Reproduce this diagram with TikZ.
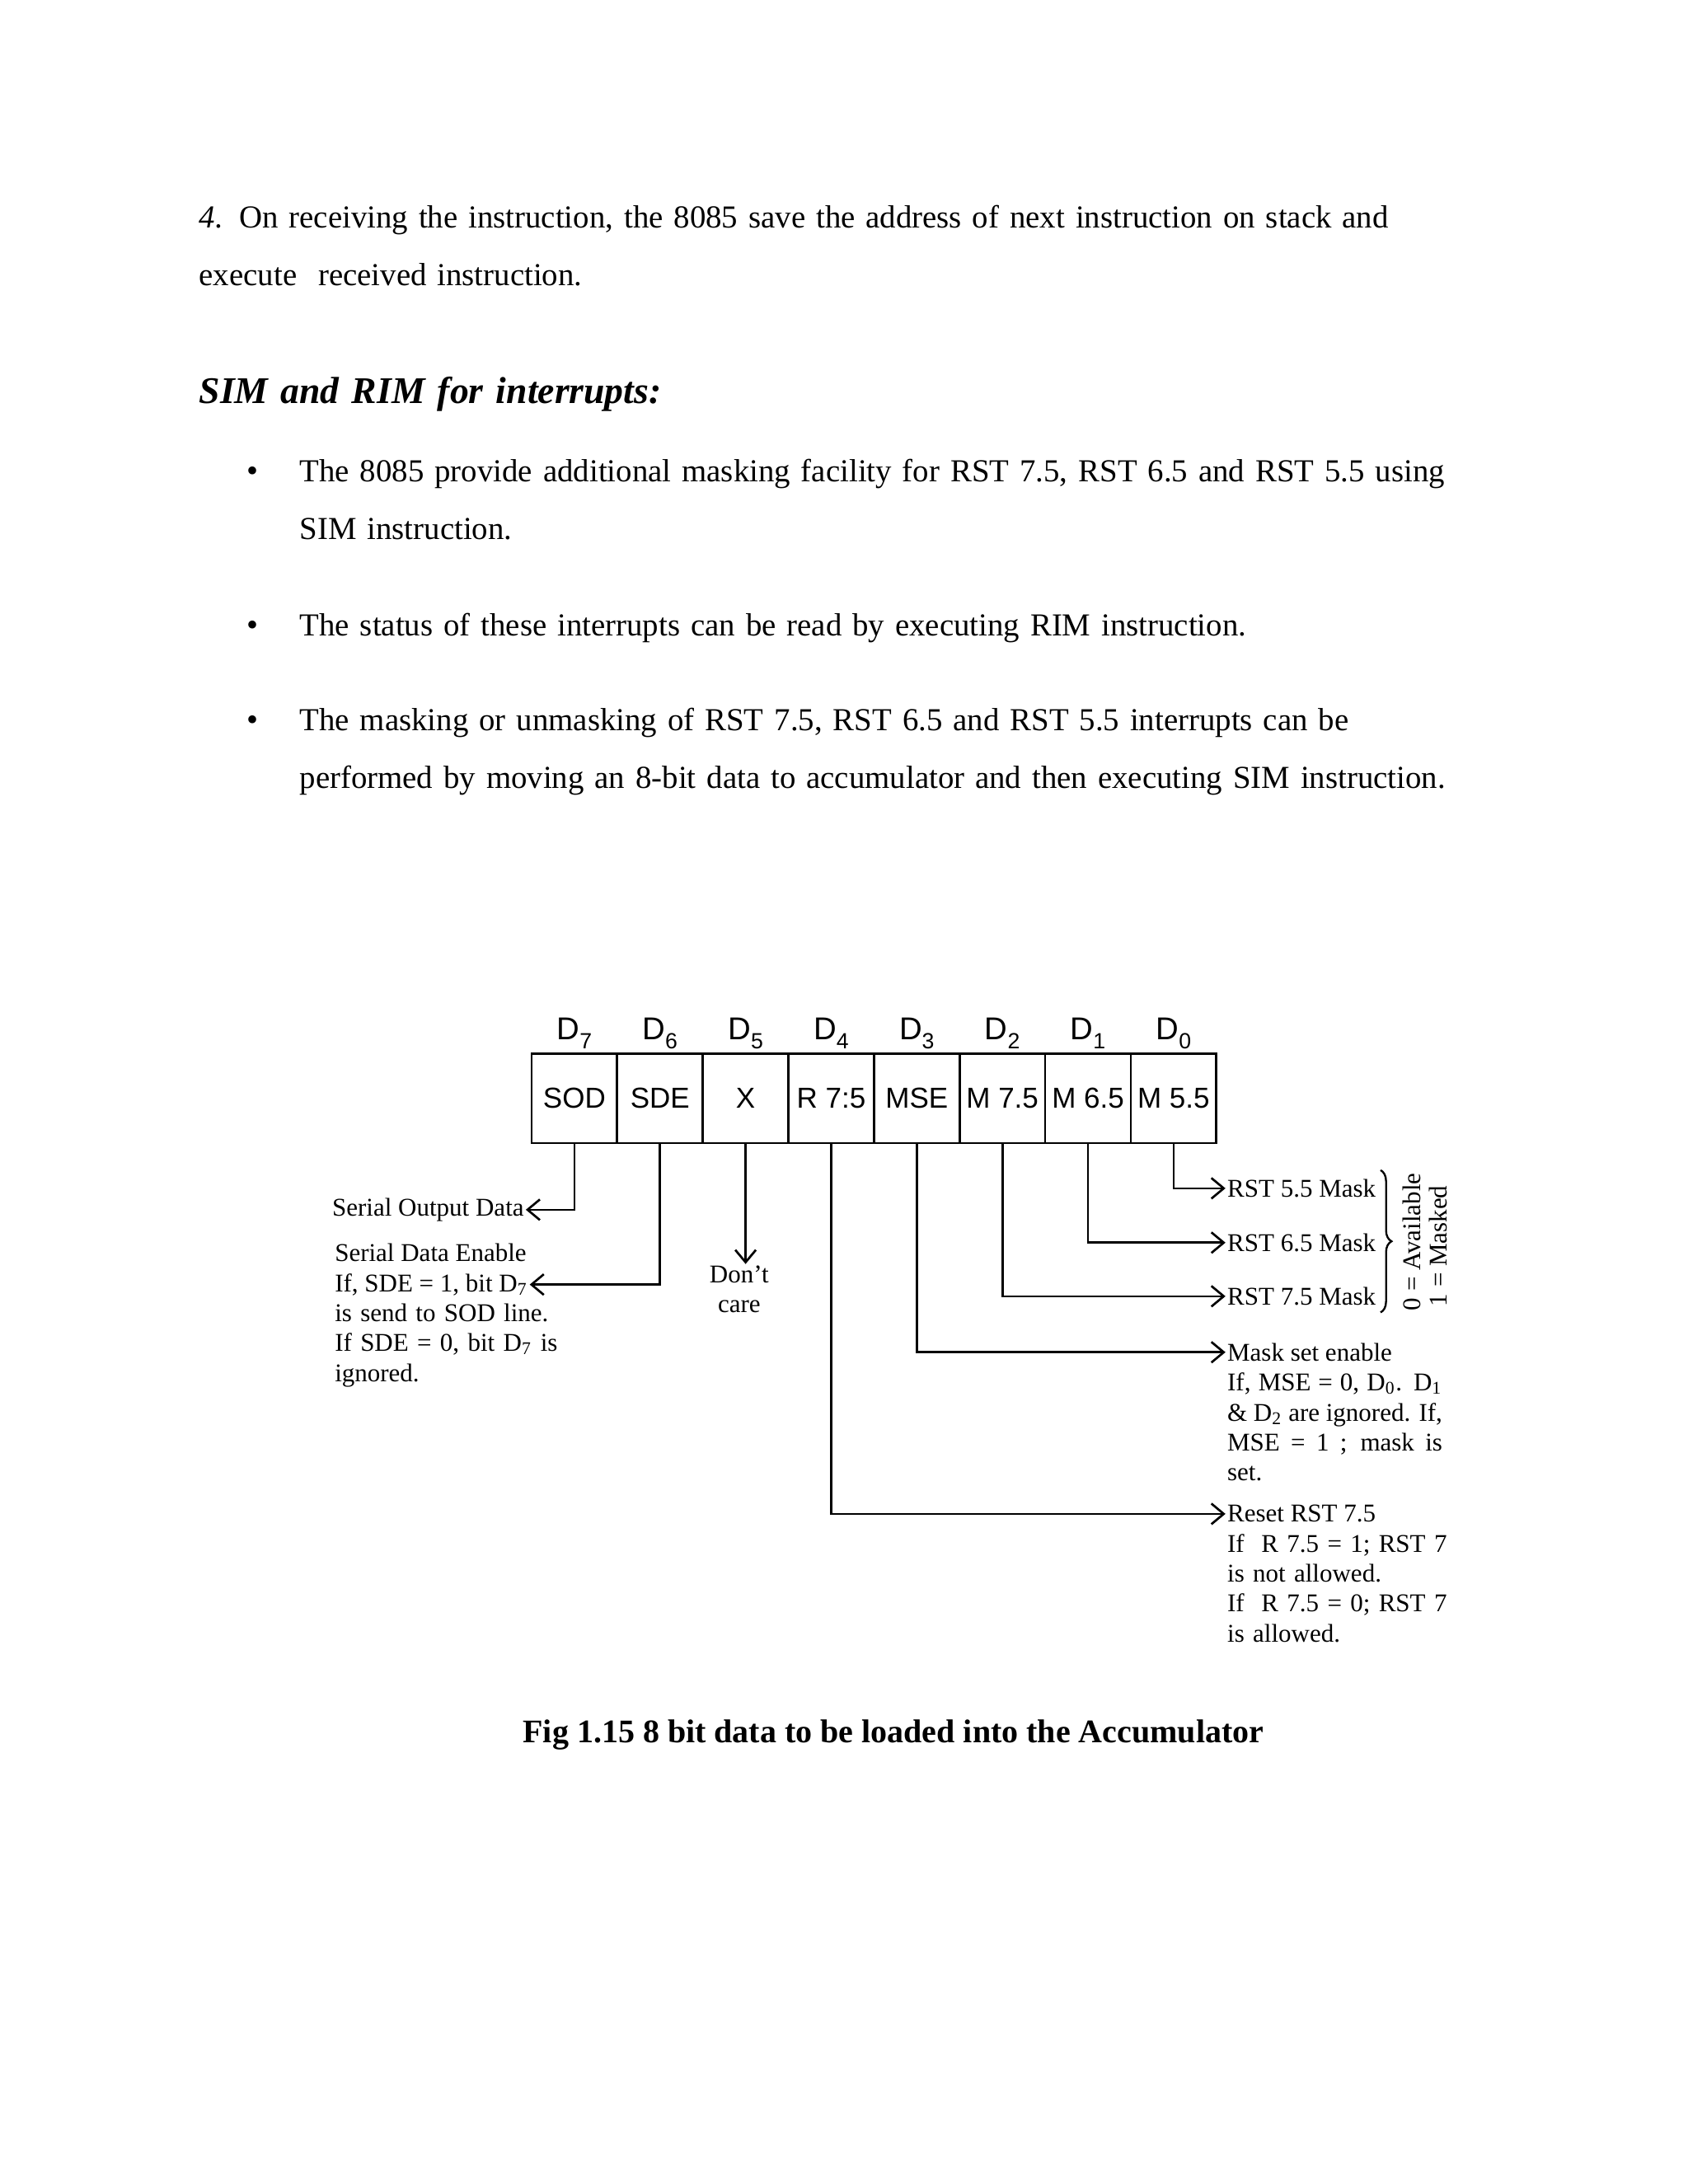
\documentclass[tikz,border=0pt]{standalone}
\usepackage{fontspec}
\setmainfont{Liberation Serif}
\setsansfont{Liberation Sans}
\usepackage{tikz}
\usetikzlibrary{arrows.meta,calc,positioning,decorations.pathreplacing}
\newcommand{\bitsub}[1]{\raisebox{-0.55ex}{\fontsize{8}{8}\selectfont #1}}
\tikzset{
  cell/.style={
    draw,
    line width=0.8pt,
    minimum width=1.095cm,
    minimum height=1.14cm,
    inner sep=0pt,
    font=\sffamily\fontsize{10.5}{12}\selectfont
  },
  bitlbl/.style={
    anchor=base,
    inner sep=0pt,
    font=\sffamily\fontsize{11.5}{13}\selectfont
  },
  note/.style={
    inner sep=0.5pt,
    font=\fontsize{9.3}{10.9}\selectfont
  },
  conn/.style={
    line width=0.8pt,
    -{Straight Barb[length=4.5pt,width=7.5pt]}
  },
  para/.style={
    anchor=base west,
    inner sep=0pt,
    text width=17.5cm,
    align=left,
    font=\fontsize{11.65}{20.9}\selectfont
  }
}

\begin{document}
\begin{tikzpicture}
        \useasboundingbox (0,0) rectangle (21.59,-27.94);
        % page text
        \node[para] (step4) at (2.541,-2.920) {\textit{4.} On receiving the instruction, the 8085 save the address of next instruction on stack and\\execute\ \ received instruction.};
        \node[para, font=\bfseries\itshape\fontsize{13.7}{17}\selectfont] (head) at (2.541,-5.166) {SIM and RIM for interrupts:};
        \foreach \y [count=\i] in {-6.167,-8.138,-9.351}
          \node[anchor=base, inner sep=0pt, font=\fontsize{12}{14}\selectfont] (dot\i) at (3.236,\y) {\textbullet};
        \node[para] (sim) at (3.827,-6.167) {The 8085 provide additional masking facility for RST 7.5, RST 6.5 and RST 5.5 using\\SIM instruction.};
        \node[para] (rim) at (3.827,-8.138) {The status of these interrupts can be read by executing RIM instruction.};
        \node[para] (mask) at (3.827,-9.351) {The masking or unmasking of RST 7.5, RST 6.5 and RST 5.5 interrupts can be\\performed by moving an 8-bit data to accumulator and then executing SIM instruction.};

        % accumulator bits
        \foreach \bit/\lbl in {7/SOD,6/SDE,5/X,4/R 7:5,3/MSE,2/M 7.5,1/M 6.5,0/M 5.5} {
          \node[cell] (b\bit) at ({15.0125-1.095*\bit},-14.052) {\lbl};
          \node[bitlbl] (d\bit) at ([yshift=0.17cm]b\bit.north) {D\bitsub{\bit}};
        }

        % left side
        \node[note, anchor=east] (sod) at (6.726,-15.476) {Serial Output Data};
        \node[note, anchor=base west] (sde) at (4.259,-16.140) {Serial Data Enable};
        \node[note, anchor=base west] (sdeon) at ([yshift=-10.9pt]sde.base west) {If, SDE = 1, bit D\textsubscript{7}};
        \node[note, anchor=base west, text width=3.4cm, align=left] (sdeoff) at ([yshift=-10.9pt]sdeon.base west) {is send to SOD line.\\If SDE = 0, bit D\textsubscript{7} is\\ignored.};
        \node[note, anchor=north, align=center] (dc) at (9.456,-16.17) {Don't\\care};

        % right side
        \node[note, anchor=west] (m55) at (15.676,-15.202) {RST 5.5 Mask};
        \node[note, anchor=west] (m65) at (15.676,-15.897) {RST 6.5 Mask};
        \node[note, anchor=west] (m75) at (15.676,-16.583) {RST 7.5 Mask};
        \draw[decorate, decoration={brace,amplitude=4pt}, line width=0.7pt] (17.66,-14.97) -- (17.66,-16.79);
        \node[note, rotate=90] (avail) at (18.058,-15.887) {0 = Available};
        \node[note, rotate=90] (mskd) at (18.396,-15.94) {1 = Masked};
        \node[note, anchor=west] (mse) at (15.676,-17.299) {Mask set enable};
        \node[note, anchor=base west, text width=2.75cm, align=justify] (msetxt) at ([yshift=-10.9pt]mse.base west) {If, MSE = 0, D\textsubscript{0}. D\textsubscript{1}\linebreak \& D\textsubscript{2} are ignored. If,\linebreak MSE = 1 ; mask is\linebreak set.};
        \node[note, anchor=west] (rst) at (15.676,-19.367) {Reset RST 7.5};
        \node[note, anchor=base west, text width=3.4cm, align=left] (rsttxt) at ([yshift=-10.9pt]rst.base west) {If\ \ R 7.5 = 1; RST 7\\is not allowed.\\If\ \ R 7.5 = 0; RST 7\\is allowed.};

        % connectors
        \draw[conn] (b7.south) |- (sod.east);
        \draw[conn] (b6.south) |- (sdeon.east);
        \draw[conn] (b5.south) -- (b5.south |- dc.north);
        \draw[conn] (b4.south) |- (rst.west);
        \draw[conn] (b3.south) |- (mse.west);
        \draw[conn] (b2.south) |- (m75.west);
        \draw[conn] (b1.south) |- (m65.west);
        \draw[conn] (b0.south) |- (m55.west);

        \node[anchor=base, inner sep=0pt, font=\bfseries\fontsize{12}{14}\selectfont] (fig) at (11.428,-22.296) {Fig 1.15 8 bit data to be loaded into the Accumulator};
\end{tikzpicture}
\end{document}
